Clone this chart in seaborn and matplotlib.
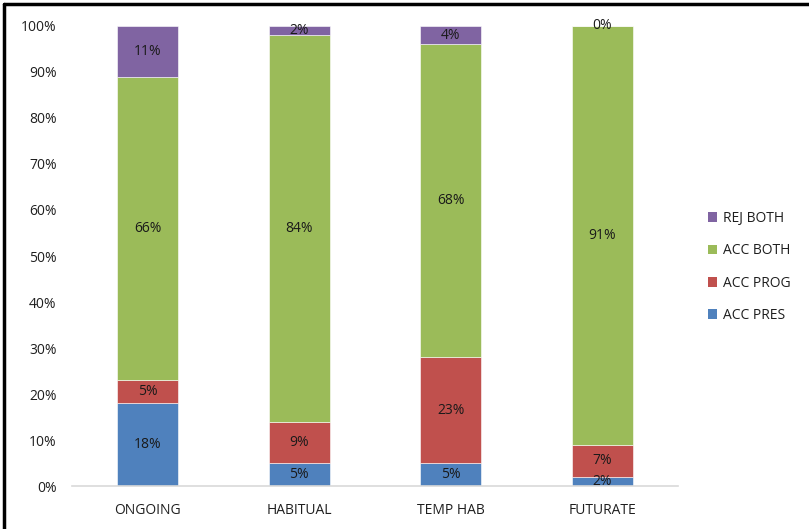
import numpy as np
import pandas as pd
import matplotlib
matplotlib.use("Agg")
import matplotlib.pyplot as plt
from matplotlib.lines import Line2D
from matplotlib.patches import Patch
import seaborn as sns

categories = ["ONGOING", "HABITUAL", "TEMP HAB", "FUTURATE"]
acc_pres = [18, 5, 5, 2]
acc_prog = [5, 9, 23, 7]
acc_both = [66, 84, 68, 91]
rej_both = [11, 2, 4, 0]

series_names = ["ACC PRES", "ACC PROG", "ACC BOTH", "REJ BOTH"]
series_values = [acc_pres, acc_prog, acc_both, rej_both]
series_colors = ["#4F81BD", "#C0504D", "#9BBB59", "#8064A2"]
y_ticks = [0, 10, 20, 30, 40, 50, 60, 70, 80, 90, 100]

sns.set_theme(style="white")
plt.rcParams["font.family"] = ["Open Sans", "DejaVu Sans"]

fig = plt.figure(figsize=(8.09, 5.29), dpi=100)
ax = fig.add_axes([72 / 809, 43 / 529, 606 / 809, 460 / 529])

bottom = np.zeros(len(categories))
for name, vals, col in zip(series_names, series_values, series_colors):
    df = pd.DataFrame({"cat": categories, "val": vals})
    sns.barplot(data=df, x="cat", y="val", order=categories, color=col,
                saturation=1, width=0.4, bottom=bottom, ax=ax,
                edgecolor="white", linewidth=0.4, errorbar=None)
    # value labels centred in each segment (zero-height segments included)
    for i, v in enumerate(vals):
        ax.text(i, bottom[i] + v / 2, f"{v}%", ha="center", va="center",
                fontsize=10, color="#1a1a1a")
    bottom = bottom + np.array(vals)

ax.set_xlim(-0.5, len(categories) - 0.5)
ax.set_ylim(0, 100)
ax.set_yticks(y_ticks)
ax.set_yticklabels([f"{t}%" for t in y_ticks])
ax.set_xlabel("")
ax.set_ylabel("")
ax.tick_params(axis="both", length=0, labelsize=10, colors="#1f1f1f")
ax.tick_params(axis="x", pad=12)
ax.tick_params(axis="y", pad=11)
for side in ["top", "right", "left"]:
    ax.spines[side].set_visible(False)
ax.spines["bottom"].set_color("#d9d9d9")
ax.spines["bottom"].set_linewidth(1.2)
ax.grid(False)

handles = [Patch(facecolor=c, edgecolor="none") for c in series_colors][::-1]
labels = series_names[::-1]
fig.legend(handles, labels, loc="center left", bbox_to_anchor=(695 / 809, 1 - 267 / 529),
           frameon=False, fontsize=10, handlelength=0.7, handleheight=0.7,
           handletextpad=0.4, labelspacing=1.25, labelcolor="#1f1f1f")

# frame lines along the left and top edges
fig.add_artist(Line2D([3.5 / 809, 3.5 / 809], [0, 1 - 3.5 / 529], color="black",
                      linewidth=2.5, transform=fig.transFigure))
fig.add_artist(Line2D([3.5 / 809, 1], [1 - 3.5 / 529, 1 - 3.5 / 529], color="black",
                      linewidth=2.5, transform=fig.transFigure))

fig.savefig("out.png", dpi=100)
